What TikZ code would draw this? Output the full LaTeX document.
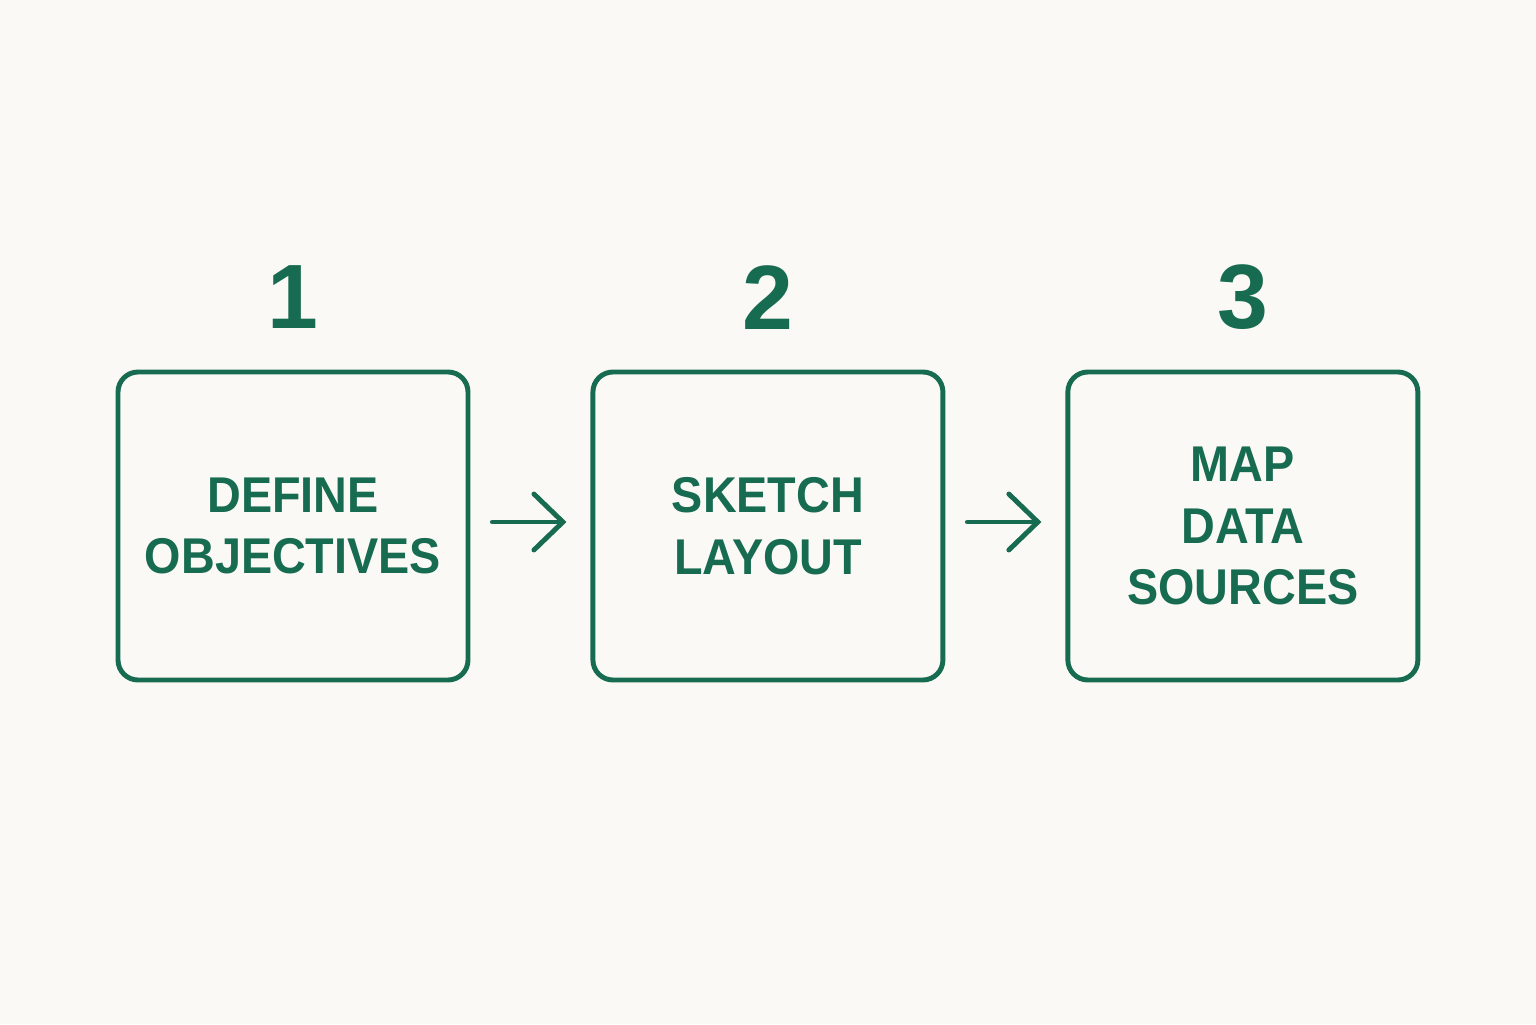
\documentclass[tikz,border=0pt]{standalone}
\usepackage{xcolor}
\usepackage{fontspec}
\usepackage{tikz}
\usetikzlibrary{positioning,arrows.meta}
\setmainfont{Liberation Sans}
\newfontfamily\stepfont[FakeStretch=0.93]{Liberation Sans}
\definecolor{stepgreen}{HTML}{176B50}
\definecolor{paper}{HTML}{FAF9F5}

\begin{document}
\begin{tikzpicture}[node distance=1.2cm, auto,
    stepbox/.style={draw=stepgreen, line width=1.4pt, rounded corners=0.2cm, minimum width=3.5cm, minimum height=3.08cm, align=center, text=stepgreen, font=\stepfont\bfseries\fontsize{14.3}{17.6}\selectfont},
    stepnum/.style={text=stepgreen, font=\bfseries\fontsize{26}{30}\selectfont},
    steparrow/.style={draw=stepgreen, line width=1.4pt, line cap=round, -{Straight Barb[length=2.9mm, width=5.6mm, line cap=round]}, shorten <=0.22cm, shorten >=0.24cm}]
    % Background
    \fill[paper] (0,0) rectangle (15.36,10.24);
    \useasboundingbox (0,0) rectangle (15.36,10.24);

    % Steps
    \node[stepbox] (define) at (2.93,4.98) {DEFINE\\OBJECTIVES};
    \node[stepbox, right=of define] (sketch) {SKETCH\\LAYOUT};
    \node[stepbox, right=of sketch] (map) {MAP\\DATA\\SOURCES};

    % Numbers
    \node[stepnum] (n1) at ([yshift=0.72cm]define.north) {1};
    \node[stepnum] (n2) at ([yshift=0.72cm]sketch.north) {2};
    \node[stepnum] (n3) at ([yshift=0.72cm]map.north) {3};

    % Arrows
    \draw[steparrow] ([yshift=0.04cm]define.east) -- ([yshift=0.04cm]sketch.west);
    \draw[steparrow] ([yshift=0.04cm]sketch.east) -- ([yshift=0.04cm]map.west);
\end{tikzpicture}
\end{document}
